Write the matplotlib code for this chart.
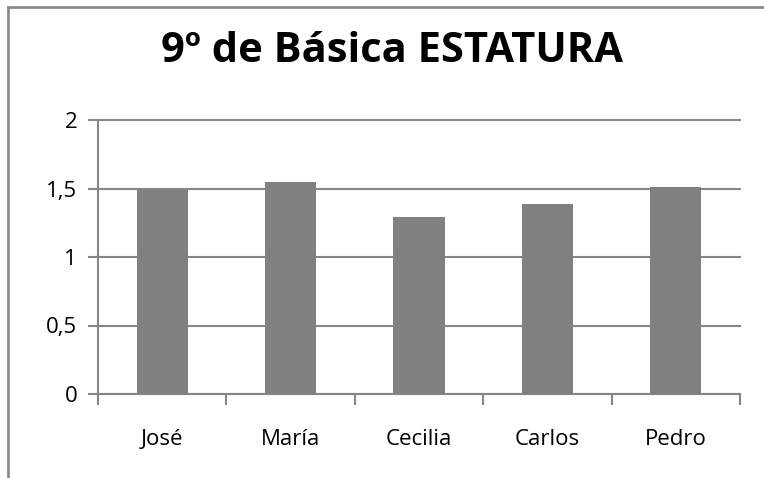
import matplotlib.pyplot as plt
from matplotlib.lines import Line2D
from matplotlib.ticker import FuncFormatter

nombres = ['José', 'María', 'Cecilia', 'Carlos', 'Pedro']
estatura = [1.49, 1.55, 1.29, 1.39, 1.51]
y_ticks = [0, 0.5, 1, 1.5, 2]

gris = '#868686'

fig = plt.figure(figsize=(7.64, 4.78), dpi=100)
ax = fig.add_axes([98 / 764, 1 - 394 / 478, (740 - 98) / 764, (394 - 120) / 478])

ax.bar(range(len(nombres)), estatura, width=0.4, color='#808080', zorder=3)
ax.set_xlim(-0.5, len(nombres) - 0.5)
ax.set_ylim(0, 2)
ax.set_yticks(y_ticks)
ax.yaxis.set_major_formatter(FuncFormatter(lambda v, p: ('%g' % v).replace('.', ',')))
ax.set_xticks(range(len(nombres)))
ax.set_xticklabels(nombres)
ax.set_xticks([i - 0.5 for i in range(len(nombres) + 1)], minor=True)

ax.grid(axis='y', color=gris, linewidth=1.5, zorder=0)
for g in ax.get_ygridlines():
    g.set_clip_on(False)
for s in ['top', 'right']:
    ax.spines[s].set_visible(False)
for s in ['left', 'bottom']:
    ax.spines[s].set_color(gris)
    ax.spines[s].set_linewidth(1.5)

fuente = ['Open Sans', 'DejaVu Sans']
ax.tick_params(axis='y', length=7, width=1.5, color=gris, labelsize=16, pad=8)
ax.tick_params(axis='x', which='major', length=0, labelsize=16, pad=25)
ax.tick_params(axis='x', which='minor', length=8, width=1.5, color=gris)
for t in ax.get_xticklabels() + ax.get_yticklabels():
    t.set_family(fuente)

fig.text(392 / 764, 1 - 51 / 478, '9º de Básica ESTATURA', ha='center', va='center',
         fontsize=30, fontweight='bold', family=fuente)

# marco del grafico
fig.add_artist(Line2D([8 / 764, 8 / 764], [0, 1 - 7 / 478], color='#8c8c8c', linewidth=2))
fig.add_artist(Line2D([8 / 764, 1], [1 - 7 / 478, 1 - 7 / 478], color='#8c8c8c', linewidth=2))

fig.savefig('out.png', dpi=100)
